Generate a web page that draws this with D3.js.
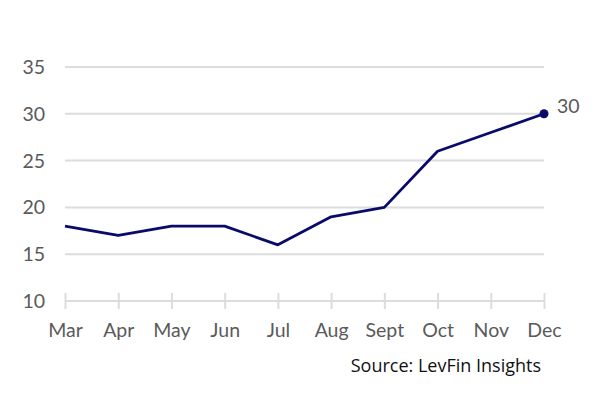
<!DOCTYPE html>
<html>
<head>
<meta charset="utf-8">
<script src="https://cdn.jsdelivr.net/npm/d3@7"></script>
<style>
  body { margin:0; background:#fff; }
  text { font-family: Lato, "Noto Sans", sans-serif; }
</style>
</head>
<body>
<svg id="chart" width="604" height="393"></svg>
<script>
// months and index values
var months = ['Mar','Apr','May','Jun','Jul','Aug','Sept','Oct','Nov','Dec'];
var values = [18, 17, 18, 18, 16, 19, 20, 26, 28, 30];
var yTicks = [10, 15, 20, 25, 30, 35];

var svg = d3.select('#chart');
var x = d3.scalePoint().domain(months).range([65, 544]);
var y = d3.scaleLinear().domain([10, 35]).range([301, 67]);
var lblColor = '#5a5a5a', lblSize = 19.5;

// gridlines
svg.append('g').selectAll('line').data(yTicks.slice(1)).enter().append('line')
  .attr('x1', 65).attr('x2', 544)
  .attr('y1', function(d){ return y(d); }).attr('y2', function(d){ return y(d); })
  .attr('stroke', '#dcdcdc').attr('stroke-width', 2);

// y labels
svg.append('g').selectAll('text').data(yTicks).enter().append('text')
  .attr('x', 45).attr('y', function(d){ return y(d) + 7; })
  .attr('text-anchor', 'end').attr('font-size', lblSize).attr('fill', lblColor)
  .text(function(d){ return d; });

// x axis
var xa = svg.append('g').attr('transform', 'translate(0,' + y(10) + ')')
  .call(d3.axisBottom(x).tickSize(8).tickPadding(14));
xa.select('.domain').attr('stroke', '#dcdcdc').attr('stroke-width', 2).attr('d', 'M65,0H544');
xa.selectAll('.tick line').attr('stroke', '#dcdcdc').attr('stroke-width', 2).attr('y1', -8);
xa.selectAll('.tick text').attr('font-size', lblSize).attr('fill', lblColor)
  .attr('font-family', 'Lato, "Noto Sans", sans-serif');

// series line
var line = d3.line().x(function(d, i){ return x(months[i]); }).y(function(d){ return y(d); });
svg.append('path').datum(values).attr('d', line)
  .attr('fill', 'none').attr('stroke', '#0a0a6b').attr('stroke-width', 2.8)
  .attr('stroke-linejoin', 'round');

// end marker + label
var last = values.length - 1;
svg.append('circle').attr('cx', x(months[last])).attr('cy', y(values[last])).attr('r', 4.5)
  .attr('fill', '#0a0a6b');
svg.append('text').attr('x', x(months[last]) + 13).attr('y', y(values[last]) - 1)
  .attr('font-size', lblSize).attr('fill', lblColor).text(values[last]);

// source
svg.append('text').attr('x', 541).attr('y', 372).attr('text-anchor', 'end')
  .attr('font-size', 18).attr('fill', '#111')
  .style('font-family', '"Open Sans", sans-serif')
  .text('Source: LevFin Insights');
</script>
</body>
</html>
